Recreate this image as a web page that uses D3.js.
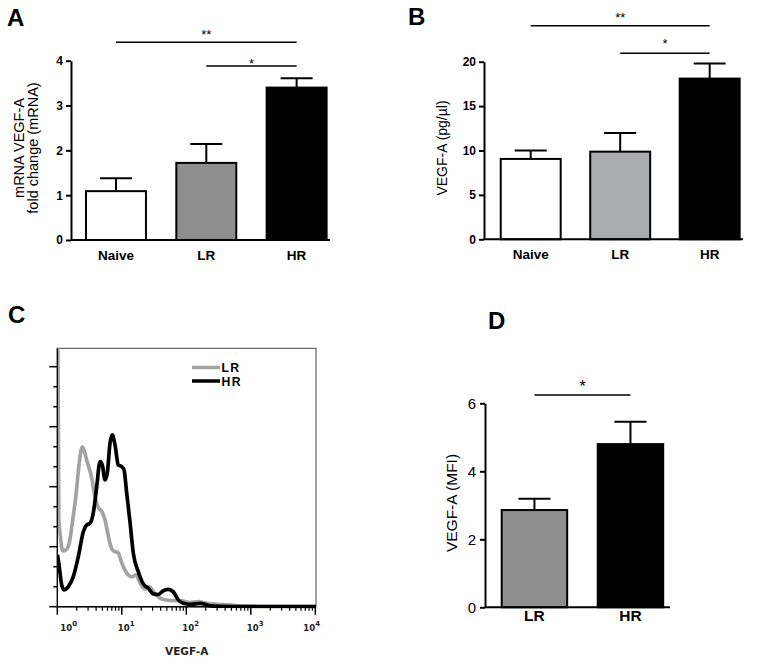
<!DOCTYPE html>
<html><head><meta charset="utf-8">
<script src="https://cdn.jsdelivr.net/npm/d3@7"></script>
<style>body{margin:0;background:#fff;} svg{display:block;}</style>
</head><body>
<svg id="chart" width="762" height="665"></svg>
<script>
// ---- Data ----
const catsA = ["Naive", "LR", "HR"];
const meanA = [1.09, 1.72, 3.40];
const errA = [0.29, 0.42, 0.21];
const ticksA = [0, 1, 2, 3, 4];
const sigA = [["Naive", "HR", "**"], ["LR", "HR", "*"]];

const catsB = ["Naive", "LR", "HR"];
const meanB = [9.05, 9.87, 18.1];
const errB = [0.95, 2.1, 1.7];
const ticksB = [0, 5, 10, 15, 20];
const sigB = [["Naive", "HR", "**"], ["LR", "HR", "*"]];

const catsD = ["LR", "HR"];
const meanD = [2.86, 4.80];
const errD = [0.33, 0.66];
const ticksD = [0, 2, 4, 6];
const sigD = [["LR", "HR", "*"]];

// Histogram (panel C): fluorescence value and event count
const lrFluor = [1.018,1.055,1.101,1.212,1.364,1.535,1.733,1.950,2.170,2.441,2.641,2.856,3.415,3.841,4.276,4.932,5.490,6.175,6.801,7.384,8.825,9.964,11.91,14.24,16.61,19.15,22.89,26.70,32.71,41.56,55.88,84.85,114.1,153.5,207.2,296.0,475.9,611.0,1389,10250];
const lrCount = [138,43.4,36.9,27.9,28.4,31.9,43.4,55.9,70.9,79.9,77.4,73.4,64.4,54.9,49.9,47.4,43.4,35.4,29.9,27.9,26.9,21.9,16.9,14.9,15.9,11.9,8.9,9.9,6.4,3.9,3.1,2.9,2.1,2.6,1.7,1.2,0.9,0.4,0.1,0];
const hrFluor = [1.007,1.063,1.170,1.270,1.481,1.770,2.117,2.530,2.856,3.214,3.615,4.082,4.592,4.985,5.490,5.960,6.562,7.124,7.845,8.825,9.964,10.82,11.91,13.40,15.08,18.03,21.54,25.76,30.79,36.81,43.53,52.60,62.86,75.16,89.84,114.1,163.1,195.0,233.0,475.9,10250];
const hrCount = [25.9,20.9,10.9,8.4,10.0,15.0,25.0,37.5,40.9,41.7,46.9,60.0,72.5,70.9,63.4,66.9,81.7,85.9,80.9,70.9,70.0,68.4,56.7,42.4,26.7,17.5,11.4,9.2,6.4,6.1,7.9,8.7,7.4,3.4,1.7,1.2,1.7,1.2,0.4,0.1,0];
const histXTicks = [1, 10, 100, 1000, 10000];
const histYTicks = d3.range(0, 121, 10);
const legendC = ["LR", "HR"];
const colorC = {LR: "#a3a3a3", HR: "#000000"};

const svg = d3.select("#chart");
const SANS = "'Liberation Sans', Arial, Helvetica, sans-serif";

function barPanel(o) {
  const g = svg.append("g");
  const x = d3.scaleBand().domain(o.cats).range(o.xRange)
    .paddingInner(o.padIn).paddingOuter(o.padOut);
  const y = d3.scaleLinear().domain([0, o.yMax]).range(o.yRange);
  const cx = c => x(c) + x.bandwidth() / 2;

  // bars
  g.selectAll("rect.bar").data(o.cats).join("rect")
    .attr("x", c => x(c)).attr("width", x.bandwidth())
    .attr("y", (c, i) => y(o.mean[i])).attr("height", (c, i) => y(0) - y(o.mean[i]))
    .attr("fill", (c, i) => o.fills[i]).attr("stroke", "#000").attr("stroke-width", 2);
  // error bars
  g.selectAll("line.eb").data(o.cats).join("line")
    .attr("x1", cx).attr("x2", cx)
    .attr("y1", (c, i) => y(o.mean[i])).attr("y2", (c, i) => y(o.mean[i] + o.err[i]))
    .attr("stroke", "#000").attr("stroke-width", 2);
  g.selectAll("line.cap").data(o.cats).join("line")
    .attr("x1", c => cx(c) - o.cap).attr("x2", c => cx(c) + o.cap)
    .attr("y1", (c, i) => y(o.mean[i] + o.err[i])).attr("y2", (c, i) => y(o.mean[i] + o.err[i]))
    .attr("stroke", "#000").attr("stroke-width", 2);

  // y axis
  const ya = g.append("g").attr("transform", `translate(${o.xRange[0]},0)`)
    .call(d3.axisLeft(y).tickValues(o.ticks).tickFormat(d3.format("d"))
      .tickSize(o.tickLen).tickSizeOuter(0).tickPadding(o.tickPad));
  ya.select(".domain").attr("stroke-width", 2);
  ya.selectAll(".tick line").attr("stroke-width", 2);
  ya.selectAll(".tick text").attr("font-family", SANS).attr("font-size", o.tickFont)
    .attr("font-weight", o.tickBold ? "bold" : "normal").attr("fill", "#000");

  // x axis line + labels
  g.append("line").attr("x1", o.xRange[0]).attr("x2", o.xAxisEnd)
    .attr("y1", y(0)).attr("y2", y(0)).attr("stroke", "#000").attr("stroke-width", 2);
  g.selectAll("text.xl").data(o.cats).join("text")
    .attr("x", cx).attr("y", o.xLabelY).attr("text-anchor", "middle")
    .attr("font-family", SANS).attr("font-weight", "bold").attr("font-size", o.xFont)
    .text(c => c);

  // y title
  o.yTitle.forEach((t, i) => {
    g.append("text").attr("transform", `translate(${o.yTitleX[i]},${o.yTitleY}) rotate(-90)`)
      .attr("text-anchor", "middle").attr("font-family", SANS).attr("font-size", o.yTitleFont)
      .text(t);
  });

  // significance
  o.sig.forEach((s, i) => {
    const x1 = cx(s[0]), x2 = cx(s[1]);
    g.append("line").attr("x1", x1).attr("x2", x2).attr("y1", o.sigY[i]).attr("y2", o.sigY[i])
      .attr("stroke", "#000").attr("stroke-width", 1.5);
    g.append("text").attr("x", (x1 + x2) / 2).attr("y", o.sigTextY[i]).attr("text-anchor", "middle")
      .attr("font-family", SANS).attr("font-size", o.sigFont).text(s[2]);
  });

  // panel letter
  g.append("text").attr("x", o.letterPos[0]).attr("y", o.letterPos[1])
    .attr("font-family", SANS).attr("font-weight", "bold").attr("font-size", 24).text(o.letter);
}

barPanel({
  cats: catsA, mean: meanA, err: errA, ticks: ticksA, sig: sigA, yMax: 4,
  fills: ["#ffffff", "#8e8e8e", "#000000"],
  xRange: [71, 341.6], padIn: 0.336, padOut: 0.166, xAxisEnd: 330,
  yRange: [240, 60.7], cap: 16, tickLen: 5, tickPad: 3, tickFont: 12, tickBold: true,
  xFont: 13.5, xLabelY: 259.5,
  yTitle: ["mRNA VEGF-A", "fold change (mRNA)"], yTitleX: [24, 38], yTitleY: 148, yTitleFont: 14.5,
  sigY: [42.3, 66], sigTextY: [38.5, 67.5], sigFont: 13,
  letter: "A", letterPos: [7, 26]
});

barPanel({
  cats: catsB, mean: meanB, err: errB, ticks: ticksB, sig: sigB, yMax: 20,
  fills: ["#ffffff", "#abacaf", "#000000"],
  xRange: [484, 756.4], padIn: 0.33, padOut: 0.187, xAxisEnd: 743,
  yRange: [239.3, 61.7], cap: 16, tickLen: 5, tickPad: 3, tickFont: 12, tickBold: true,
  xFont: 13.5, xLabelY: 258.5,
  yTitle: ["VEGF-A (pg/µl)"], yTitleX: [447], yTitleY: 148, yTitleFont: 14,
  sigY: [25.7, 53.3], sigTextY: [21.5, 47.5], sigFont: 13,
  letter: "B", letterPos: [408, 25]
});

barPanel({
  cats: catsD, mean: meanD, err: errD, ticks: ticksD, sig: sigD, yMax: 6,
  fills: ["#8e8e8e", "#000000"],
  xRange: [485, 679.9], padIn: 0.318, padOut: 0.174, xAxisEnd: 670,
  yRange: [607.3, 403.3], cap: 16, tickLen: 5, tickPad: 4, tickFont: 15, tickBold: false,
  xFont: 15.5, xLabelY: 620.5,
  yTitle: ["VEGF-A (MFI)"], yTitleX: [457], yTitleY: 503, yTitleFont: 15.5,
  sigY: [395], sigTextY: [391.5], sigFont: 17,
  letter: "D", letterPos: [488, 329]
});

// ---- Panel C: histogram ----
(function () {
  const g = svg.append("g");
  const L = 57.3, R = 316, T = 348.3, B = 606.7;
  const x = d3.scaleLog().domain([1, 10250]).range([L, R]);
  const y = d3.scaleLinear().domain([0, 129.2]).range([B, T]);

  g.append("defs").append("clipPath").attr("id", "clipC")
    .append("rect").attr("x", L).attr("y", T).attr("width", R - L).attr("height", B - T + 1.5);

  // box
  g.append("rect").attr("x", L).attr("y", T).attr("width", R - L).attr("height", B - T)
    .attr("fill", "none").attr("stroke", "#444").attr("stroke-width", 1);

  const line = d3.line().x(d => x(d[0])).y(d => y(d[1])).curve(d3.curveMonotoneX);
  const lr = lrFluor.map((f, i) => [f, lrCount[i]]);
  const hr = hrFluor.map((f, i) => [f, hrCount[i]]);
  const curves = g.append("g").attr("clip-path", "url(#clipC)");
  curves.append("path").datum(lr).attr("d", line).attr("fill", "none")
    .attr("stroke", colorC.LR).attr("stroke-width", 3.7).attr("stroke-linejoin", "round");
  curves.append("path").datum(hr).attr("d", line).attr("fill", "none")
    .attr("stroke", colorC.HR).attr("stroke-width", 3.7).attr("stroke-linejoin", "round");

  // left ticks
  g.selectAll("line.yt").data(histYTicks).join("line")
    .attr("x1", d => L - (d % 30 === 0 ? 8 : 4)).attr("x2", L)
    .attr("y1", d => y(d)).attr("y2", d => y(d))
    .attr("stroke", "#000").attr("stroke-width", 1.5);
  g.append("line").attr("x1", L).attr("x2", L).attr("y1", T).attr("y2", B)
    .attr("stroke", "#000").attr("stroke-width", 1.2);

  // bottom axis
  g.append("line").attr("x1", L).attr("x2", R).attr("y1", B).attr("y2", B)
    .attr("stroke", "#000").attr("stroke-width", 1.5);
  const minor = [];
  for (let k = 0; k < 4; k++) for (let m = 2; m <= 9; m++) minor.push(m * Math.pow(10, k));
  g.selectAll("line.xm").data(minor).join("line")
    .attr("x1", d => x(d)).attr("x2", d => x(d)).attr("y1", B).attr("y2", B + 4)
    .attr("stroke", "#000").attr("stroke-width", 1.2);
  g.selectAll("line.xM").data(histXTicks).join("line")
    .attr("x1", d => x(d)).attr("x2", d => x(d)).attr("y1", B).attr("y2", B + 8)
    .attr("stroke", "#000").attr("stroke-width", 1.5);
  const lab = g.selectAll("text.xt").data(histXTicks).join("text")
    .attr("x", (d, i) => x(d) + (i === 0 ? 3 : i === histXTicks.length - 1 ? -12 : -4))
    .attr("y", 631).attr("font-family", "'DejaVu Sans', sans-serif").attr("font-weight", "bold")
    .attr("font-size", 8.5).attr("fill", "#222");
  lab.append("tspan").text("10");
  lab.append("tspan").attr("dy", -5).attr("font-size", 7).text(d => Math.round(Math.log10(d)));

  g.append("text").attr("x", (L + R) / 2).attr("y", 655).attr("text-anchor", "middle")
    .attr("font-family", "'DejaVu Sans', sans-serif").attr("font-weight", "bold")
    .attr("font-size", 10.5).attr("fill", "#222").text("VEGF-A");

  // legend
  const lg = g.selectAll("g.lg").data(legendC).join("g")
    .attr("transform", (d, i) => `translate(192,${367.5 + i * 13.5})`);
  lg.append("line").attr("x1", 0).attr("x2", 28).attr("y1", 0).attr("y2", 0)
    .attr("stroke", d => colorC[d]).attr("stroke-width", 3.5);
  lg.append("text").attr("x", 29.5).attr("y", 4.6).attr("font-family", SANS)
    .attr("font-weight", "bold").attr("font-size", 12.2).attr("letter-spacing", 1.4).text(d => d);

  g.append("text").attr("x", 8).attr("y", 323.3).attr("font-family", SANS)
    .attr("font-weight", "bold").attr("font-size", 24).text("C");
})();
</script>
</body></html>
